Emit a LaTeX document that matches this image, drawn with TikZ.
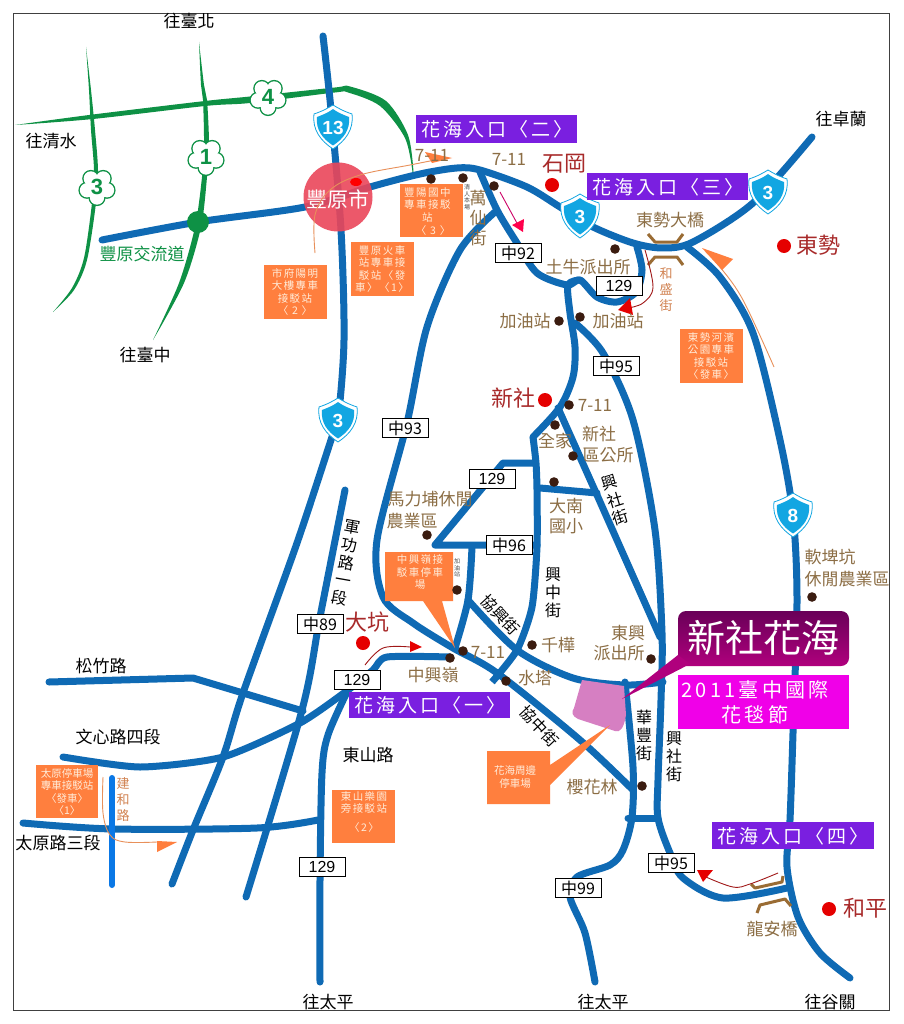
\documentclass[tikz,border=0pt]{standalone}
\usepackage{fontspec}
\usetikzlibrary{shadings}
\newfontfamily\cjk{Noto Sans CJK TC}
\newfontfamily\cjkw[LetterSpace=14]{Noto Sans CJK TC}
\newfontfamily\cjkp[LetterSpace=16]{Noto Sans CJK TC}
\newfontfamily\hv{Liberation Sans}
\definecolor{roadc}{HTML}{0F6AB4}
\definecolor{brightb}{HTML}{0A78E6}
\definecolor{grn}{HTML}{0E9145}
\definecolor{brn}{HTML}{8C6E45}
\definecolor{dred}{HTML}{A82A2A}
\definecolor{dotc}{HTML}{3B1C10}
\definecolor{orng}{HTML}{FF7F3E}
\definecolor{orngl}{HTML}{E8905A}
\definecolor{purp}{HTML}{7A1FE0}
\definecolor{mag}{HTML}{F000E8}
\definecolor{shc}{HTML}{12A6E2}
\definecolor{pinkc}{HTML}{D67FC2}
\definecolor{bridge}{HTML}{9A6C34}
\definecolor{redar}{HTML}{A01818}
\definecolor{ttop}{HTML}{690058}
\definecolor{tbot}{HTML}{B0007D}
\definecolor{circ}{HTML}{EB465A}
\tikzset{
  x=1pt,y=-1pt,
  road/.style={draw=roadc,line width=7pt,line cap=round,line join=round},
  f/.style={font=\cjk\fontsize{17}{20}\selectfont,inner sep=0pt,align=center},
  blk/.style={f,text=black},
  bl/.style={f,text=brn},
  gr/.style={f,text=grn},
  town/.style={font=\cjk\fontsize{22}{25}\selectfont,inner sep=0pt,text=dred},
  tiny/.style={font=\cjk\fontsize{6}{6.5}\selectfont,inner sep=0pt,align=center,text=black!70},
  sm/.style={font=\cjk\fontsize{13}{16}\selectfont,inner sep=0pt,align=center,text=orngl!90!black},
  boxtx/.style={font=\cjkw\fontsize{10.5}{12.5}\selectfont,inner sep=0pt,align=center,text=orange!15!white},
  obox/.style={fill=orng,draw=none},
  pur/.style={fill=purp,draw=none},
  purtx/.style={font=\cjkp\fontsize{19}{21}\selectfont,inner sep=0pt,text=white},
  rn/.style={draw=black,fill=white,line width=0.8pt,minimum width=46pt,minimum height=19pt,inner sep=0pt,font=\hv\fontsize{16}{18}\selectfont},
  rnc/.style={rn,font=\cjk\fontsize{16}{18}\selectfont},
  dot/.style={fill=dotc,draw=none},
  rdot/.style={fill=red!90!black,draw=none},
  thinar/.style={line width=0.9pt},
  brg/.style={draw=bridge,line width=3pt,line join=round},
  vt/.style={blk,font=\cjk\fontsize{16}{18}\selectfont},
}
\newcommand\shld[4]{% name, x, y, text
  \begin{scope}[shift={(#2,#3)}]
    \fill[white] (-19,-13) .. controls (-10,-16) and (-5,-19) .. (0,-22) .. controls (5,-19) and (10,-16) .. (19,-13) .. controls (21,3) and (12,14) .. (0,22) .. controls (-12,14) and (-21,3) .. (-19,-13) -- cycle;
    \draw[shc,line width=0.8pt] (-19,-13) .. controls (-10,-16) and (-5,-19) .. (0,-22) .. controls (5,-19) and (10,-16) .. (19,-13) .. controls (21,3) and (12,14) .. (0,22) .. controls (-12,14) and (-21,3) .. (-19,-13) -- cycle;
    \fill[shc] (-16,-10) .. controls (-8,-13) and (-4,-15) .. (0,-18) .. controls (4,-15) and (8,-13) .. (16,-10) .. controls (17.5,3) and (10,12) .. (0,18.5) .. controls (-10,12) and (-17.5,3) .. (-16,-10) -- cycle;
    \node[inner sep=0pt,text=white,font=\hv\bfseries\fontsize{19}{20}\selectfont] (#1) at (0,1) {#4};
  \end{scope}}
\newcommand\flow[4]{% name, x, y, text
  \begin{scope}[shift={(#2,#3)}]
    \foreach \a in {90,162,234,306,18} {\fill[grn] (\a:10.5) circle (8.6);}
    \foreach \a in {90,162,234,306,18} {\fill[white] (\a:10.5) circle (7.2);}
    \fill[white] (0,0) circle (9);
    \node[inner sep=0pt,text=grn,font=\hv\bfseries\fontsize{22}{22}\selectfont] (#1) at (0,0) {#4};
  \end{scope}}
\begin{document}
\begin{tikzpicture}
\path[use as bounding box,fill=white] (0,0) rectangle (903,1024);
\draw[black!75,line width=0.9pt] (13,13) rectangle (889,1010);
% green roads
\fill[grn] plot[smooth,tension=.5] coordinates {(15,125)(93,114.5)(205,101)(250,96.5)(335,87.5)(350,86.5)(386,101)(408,135)(413.5,172)}
  -- plot[smooth,tension=.5] coordinates {(412.5,172)(405,138)(380,106)(348,92.5)(335,92.5)(250,103)(205,106)(93,119)(15,125)} -- cycle;
\fill[grn] plot[smooth,tension=.5] coordinates {(86,47)(91,90)(95,130)(98,170)(96,203)(87,260)(74,290)(53,312)}
  -- plot[smooth,tension=.5] coordinates {(53,312)(72,288)(84,258)(92,203)(94,170)(91,130)(89,90)(86,47)} -- cycle;
\fill[grn] plot[smooth,tension=.5] coordinates {(199,42)(204,85)(207,100)(209,143)(207,177)(201,227)(184,283)(153,340)}
  -- plot[smooth,tension=.5] coordinates {(153,340)(179,283)(195,227)(202,177)(204,143)(203,100)(201,85)(199,42)} -- cycle;
% blue roads
\draw[road] plot[smooth,tension=.5] coordinates {(323,36)(331,110)(341,230)(344,340)(338,420)(332,437)(297,543)(243,693)(223,757)(193,830)(172,884)};
\draw[road] plot[smooth,tension=.5] coordinates {(345,490)(320,617)(302,710)(246,897)};
\draw[road] plot[smooth,tension=.5] coordinates {(102,240)(198,222)(305,207)(370,187)(420,174)(457,168)(480,170)(527,187)(560,207)(593,227)(633,243)(663,248)(693,242)(753,203)(812,137)};
\draw[road] plot[smooth,tension=.5] coordinates {(480,172)(497,210)(517,243)(537,273)(567,285)(580,280)(597,297)(617,302)(636,292)(642,270)(637,247)};
\draw[road] plot[smooth,tension=.5] coordinates {(580,280)(568,285)(570,313)(575,347)(573,377)(560,407)(533,437)};
\draw[road,line cap=butt] plot[smooth,tension=.4] coordinates {(533,437)(536,463)(537,490)(537,547)(532,607)(517,650)(492,682)};
\draw[road] (558,408) -- (597,495) -- (660,637);
\draw[road] plot[smooth,tension=.5] coordinates {(575,323)(603,353)(633,420)(655,530)(662,633)(661,700)(658,780)(658,818)(670,853)(683,878)(723,898)(787,888)};
\draw[road] plot[smooth,tension=.5] coordinates {(687,247)(720,277)(753,333)(780,440)(793,515)(797,600)(793,733)(790,820)(787,867)(798,917)(820,953)(850,978)};
\draw[road] plot[smooth,tension=.5] coordinates {(495,212)(460,250)(427,327)(407,423)(377,540)(383,597)(413,623)(453,648)(497,673)(580,740)(633,790)};
\draw[road] (533,463) -- (503,463) -- (435,545) -- (537,545);
\draw[road] plot[smooth,tension=.5] coordinates {(472,547)(468,600)(455,648)};
\draw[road] plot[smooth,tension=.5] coordinates {(468,600)(517,650)(573,678)(625,685)(663,682)};
\draw[road] (540,488) -- (597,493);
\draw[road] plot[smooth,tension=.5] coordinates {(625,682)(633,767)(632,817)(623,850)(610,865)(577,877)(570,897)(585,933)(595,982)};
\draw[road] (628,818) -- (658,818);
\draw[road] plot[smooth,tension=.4] coordinates {(450,657)(387,657)(373,670)(348,690)(300,723)(223,757)(140,767)(63,757)};
\draw[road] plot[smooth,tension=.5] coordinates {(348,690)(328,735)(322,773)(320,880)(320,982)};
\draw[road] (49,682) -- (193,678) -- (303,711);
\draw[road] plot[smooth,tension=.5] coordinates {(23,823)(113,829)(257,828)(318,820)};
\draw[line width=6pt,brightb,line cap=round] (112,778) -- (112,885);
% circle
\fill[circ,fill opacity=.9] (338,197) circle (34.5);
\fill[red] (356,182) ellipse (6 and 4);
\node[inner sep=0pt,text=white,font=\cjk\fontsize{21}{22}\selectfont] (fy) at (338,199) {豐原市};
% pink lot
\fill[pinkc,line join=round] (582,680) -- (624,686) -- (626,715) .. controls (624,728) and (620,733) .. (615,731) -- (578,719) .. controls (572,716) and (571,712) .. (574,708) -- cycle;
% flowers, shields
\flow{f4}{268}{97}{4}
\flow{f1}{206}{157}{1}
\flow{f3}{97}{187}{3}
\fill[grn] (198,222) circle (11);
\shld{s13}{333}{127}{13}
\shld{s3a}{580}{216}{3}
\shld{s3b}{768}{192}{3}
\shld{s3c}{338}{420}{3}
\shld{s8}{793}{515}{8}
% bridges
\draw[brg] (648,234) -- (655,242) -- (677,242) -- (683,234);
\draw[brg] (648,265) -- (655,257) -- (677,257) -- (683,265);
\draw[brg] (783,876) -- (782,882) -- (755,888) -- (751,884);
\draw[brg] (757,913) -- (760,905) -- (785,899) -- (791,906);
% orange boxes
\fill[obox] (400,184) rectangle (463,237);
\node[boxtx,anchor=north west] (b1) at (404,187) {豐陽國中\\專車接駁\\站\\[1pt]\ \ \ 〈 3 〉};
\fill[obox] (351,242) rectangle (414,296);
\node[boxtx,anchor=north west] (b2) at (355,245) {豐原火車\\站專車接\\駁站〈發\\車〉〈1〉};
\fill[obox] (264,265) rectangle (327,319);
\node[boxtx] (b3) at (295,292) {市府陽明\\大樓專車\\接駁站\\〈 2 〉};
\fill[obox] (680,329) rectangle (743,383);
\node[boxtx] (b4) at (711,356) {東勢河濱\\公園專車\\接駁站\\〈發車〉};
\fill[obox] (385,552) -- (453,552) -- (453,601) -- (442,601) -- (455,648) -- (423,601) -- (385,601) -- cycle;
\node[boxtx] (b5) at (420,572) {中興嶺接\\駁車停車\\場};
\fill[obox] (36,765) rectangle (98,818);
\node[boxtx,font=\cjk\fontsize{10.5}{12.5}\selectfont] (b6) at (67,792) {太原停車場\\專車接駁站\\〈發車〉\\〈1〉};
\fill[obox] (332,790) rectangle (395,843);
\node[boxtx] (b7) at (364,812) {東山樂園\\旁接駁站\\[6pt]〈2〉};
\fill[obox] (487,751) -- (550,751) -- (550,765) -- (610,725) -- (550,785) -- (550,804) -- (487,804) -- cycle;
\node[boxtx,font=\cjk\fontsize{10.5}{12.5}\selectfont] (b8) at (515,777) {花海周邊\\停車場};
% purple boxes
\fill[pur] (416,115) rectangle (577,143);
\node[purtx] (p2) at (497,129) {花海入口〈二〉};
\fill[pur] (587,173) rectangle (748,200);
\node[purtx] (p3) at (668,187) {花海入口〈三〉};
\fill[pur] (349,692) rectangle (510,718);
\node[purtx] (p1) at (430,705) {花海入口〈一〉};
\fill[pur] (712,822) rectangle (874,849);
\node[purtx] (p4) at (793,836) {花海入口〈四〉};
% title
\shade[top color=ttop,bottom color=tbot,rounded corners=8pt] (678,611) rectangle (849,666);
\fill[tbot] (690,664) -- (622,699) -- (678,655) -- cycle;
\node[inner sep=0pt,text=white,font=\cjk\fontsize{38}{40}\selectfont] (ttl) at (763,638) {新社花海};
\fill[mag] (678,675) rectangle (849,729);
\node[font=\cjkp\fontsize{20}{25}\selectfont,text=white,inner sep=0pt,align=center] (sub) at (755,702) {2011臺中國際\\花毯節};
% road number boxes
\node[rnc] (r1) at (518,253) {中92};
\node[rn]  (r2) at (619,286) {129};
\node[rnc] (r3) at (616,366) {中95};
\node[rnc] (r4) at (405,428) {中93};
\node[rn]  (r5) at (492,479) {129};
\node[rnc] (r6) at (509,545) {中96};
\node[rnc] (r7) at (320,624) {中89};
\node[rn]  (r8) at (357,680) {129};
\node[rn]  (r9) at (322,867) {129};
\node[rnc] (r10) at (578,888) {中99};
\node[rnc] (r11) at (671,863) {中95};
% dots
\foreach \p in {(431,179),(463,178),(494,186),(615,249),(559,321),(580,317),(569,405),(555,425),(573,456),(554,482),(427,535),(457,590),(463,651),(450,658),(532,645),(506,681),(651,659),(642,786),(812,597)} {\fill[dot] \p circle (4.8);}
\foreach \p in {(552,185),(784,246),(545,400),(363,643),(829,909)} {\fill[rdot] \p circle (7);}
% arrows
\draw[orngl,thinar] plot[smooth,tension=.6] coordinates {(315,253)(315,215)(330,190)(360,175)(410,165)(440,159)};
\fill[orng] (452,158) -- (425,152) -- (432,163) -- cycle;
\draw[redar,thinar] plot[smooth,tension=.6] coordinates {(645,250)(653,287)(643,303)(628,308)};
\fill[red!90!black] (630,298) -- (618,310) -- (633,315) -- cycle;
\draw[purple!80!magenta,thinar] (500,192) -- (518,225);
\fill[red!70!magenta] (512,225) -- (524,219) -- (523,232) -- cycle;
\draw[orngl,thinar] plot[smooth,tension=.6] coordinates {(774,367)(743,300)(720,267)(706,252)};
\fill[orng] (702,248) -- (733,259) -- (722,270) -- cycle;
\draw[redar,thinar] plot[smooth,tension=.6] coordinates {(365,665)(383,648)(410,647)};
\fill[red!90!black] (410,641) -- (422,647) -- (410,652) -- cycle;
\draw[redar,thinar] plot[smooth,tension=.6] coordinates {(778,873)(750,884)(733,887)(706,877)};
\fill[red!90!black] (697,870) -- (713,870) -- (703,882) -- cycle;
\draw[orngl,thinar] plot[smooth,tension=.6] coordinates {(103,777)(103,813)(110,835)(125,842)(157,842)};
\fill[orng] (157,841) -- (177,842) -- (157,852) -- cycle;
% black labels
\node[blk] (t1) at (189,21) {往臺北};
\node[blk] (t2) at (51,141) {往清水};
\node[blk] (t3) at (145,355) {往臺中};
\node[blk] (t4) at (841,119) {往卓蘭};
\node[blk] (t5) at (328,1002) {往太平};
\node[blk] (t6) at (603,1002) {往太平};
\node[blk] (t7) at (830,1002) {往谷關};
\node[blk] (t8) at (101,666) {松竹路};
\node[blk] (t9) at (118,737) {文心路四段};
\node[blk] (t10) at (368,755) {東山路};
\node[blk] (t11) at (58,843) {太原路三段};
\node[vt,rotate=-10] (c1) at (346,563) {軍\\功\\路\\一\\段};
\node[vt] (t13) at (553,593) {興\\中\\街};
\node[vt] (t14) at (644,735) {華\\豐\\街};
\node[vt] (t15) at (674,757) {興\\社\\街};
\node[vt,rotate=17] (t16) at (615,500) {興\\社\\街};
\node[vt,rotate=-47] (t17) at (500,615) {協興街};
\node[vt,rotate=-47] (t18) at (539,726) {協中街};
% green label
\node[gr] (g1) at (142,254) {豐原交流道};
% towns
\node[town] (w1) at (564,164) {石岡};
\node[town] (w2) at (818,245) {東勢};
\node[town] (w3) at (513,398) {新社};
\node[town] (w4) at (367,622) {大坑};
\node[town] (w5) at (865,908) {和平};
% brown labels
\node[bl] (l1) at (432,155) {7-11};
\node[bl] (l2) at (509,159) {7-11};
\node[bl] (l3) at (670,220) {東勢大橋};
\node[bl] (l4) at (588,267) {土牛派出所};
\node[bl] (l5) at (525,321) {加油站};
\node[bl] (l6) at (618,321) {加油站};
\node[bl] (l7) at (595,405) {7-11};
\node[bl] (l8) at (555,441) {全家};
\node[bl] (l9) at (599,434) {新社};
\node[bl] (l10) at (608,455) {區公所};
\node[bl] (l11) at (566,516) {大南\\國小};
\node[bl] (l12) at (430,499) {馬力埔休閒};
\node[bl] (l13) at (412,521) {農業區};
\node[bl] (l14) at (478,218) {萬\\仙\\街};
\node[bl] (l15) at (433,675) {中興嶺};
\node[bl] (l16) at (488,652) {7-11};
\node[bl] (l17) at (558,645) {千樺};
\node[bl] (l18) at (535,678) {水塔};
\node[bl] (l19) at (628,633) {東興};
\node[bl] (l20) at (619,653) {派出所};
\node[bl] (l21) at (592,787) {櫻花林};
\node[bl] (l22) at (772,929) {龍安橋};
\node[bl] (l23) at (830,557) {軟埤坑};
\node[bl] (l24) at (847,579) {休閒農業區};
\node[sm] (m1) at (666,290) {和\\盛\\街};
\node[sm] (m2) at (123,800) {建\\和\\路};
\node[tiny] (n1) at (467,197) {清\\人\\本\\場};
\node[tiny] (n2) at (457,568) {加\\油\\站};
\end{tikzpicture}
\end{document}
